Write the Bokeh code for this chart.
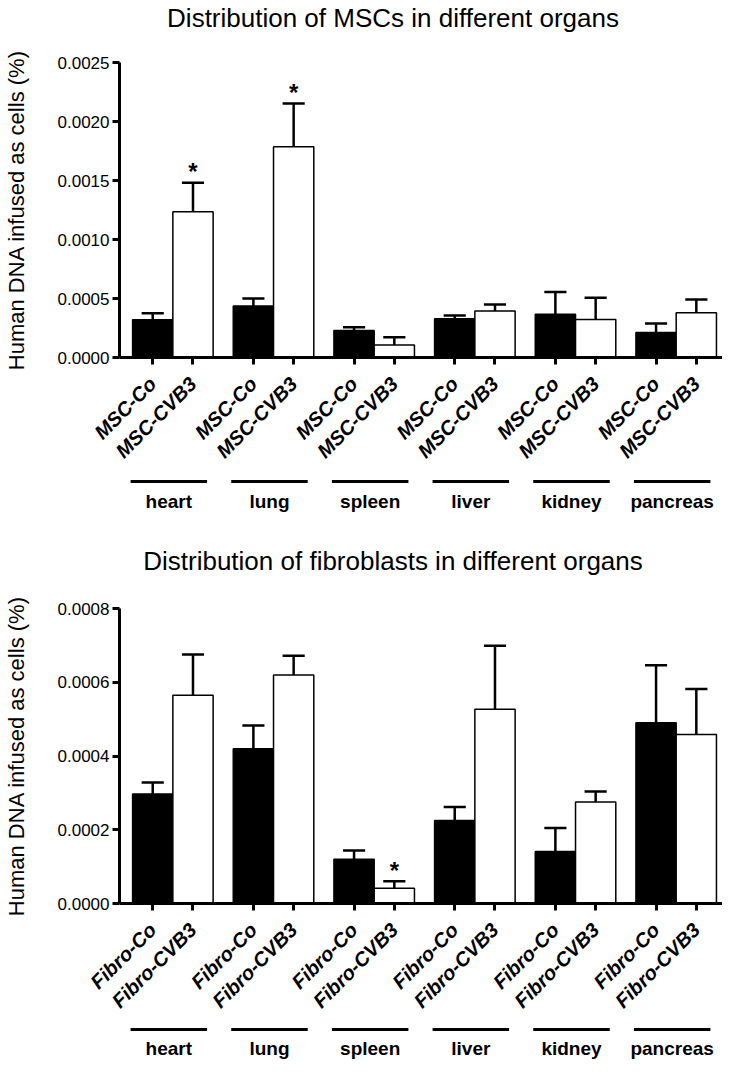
import math
from bokeh.plotting import figure
from bokeh.models import Range1d, FixedTicker, PrintfTickFormatter
from bokeh.layouts import column
from bokeh.core.properties import value
from bokeh.embed import file_html
from bokeh.resources import INLINE

# ---------------- data ----------------
organs = ["heart", "lung", "spleen", "liver", "kidney", "pancreas"]

msc_title = "Distribution of MSCs in different organs"
msc_labels = ["MSC-Co", "MSC-CVB3"]
msc_co = [0.000320, 0.000436, 0.000228, 0.000328, 0.000367, 0.000211]
msc_co_sem = [0.000055, 0.000064, 0.000028, 0.000028, 0.000189, 0.000078]
msc_cvb3 = [0.001236, 0.001786, 0.000106, 0.000394, 0.000322, 0.000380]
msc_cvb3_sem = [0.000244, 0.000367, 0.000066, 0.000056, 0.000184, 0.000112]
msc_cvb3_sig = [True, True, False, False, False, False]
msc_yticks = [0.0, 0.0005, 0.0010, 0.0015, 0.0020, 0.0025]

fib_title = "Distribution of fibroblasts in different organs"
fib_labels = ["Fibro-Co", "Fibro-CVB3"]
fib_co = [0.000297, 0.000420, 0.000120, 0.000225, 0.000141, 0.000490]
fib_co_sem = [0.000031, 0.000063, 0.000024, 0.000037, 0.000064, 0.000156]
fib_cvb3 = [0.000565, 0.000620, 0.0000412, 0.000527, 0.000275, 0.000458]
fib_cvb3_sem = [0.000110, 0.000052, 0.0000193, 0.000172, 0.000029, 0.000124]
fib_cvb3_sig = [False, False, True, False, False, False]
fib_yticks = [0.0, 0.0002, 0.0004, 0.0006, 0.0008]

y_label = "Human DNA infused as cells (%)"

# ---------------- style ----------------
FONT = "Liberation Sans"
W = 722
LEFT = 114
RIGHT = 0
BAR_W = 0.4
CAP = 0.11
x_range = Range1d(-0.53, 5.46)


def strip(height):
    s = figure(width=W, height=height, x_range=x_range,
               y_range=Range1d(0, height),
               output_backend="svg", toolbar_location=None,
               min_border_left=LEFT, min_border_right=RIGHT,
               min_border_top=0, min_border_bottom=0,
               x_axis_type=None, y_axis_type=None)
    s.outline_line_color = None
    s.grid.visible = False
    return s


def title_strip(title, height, text_y):
    s = strip(height)
    mid = (x_range.start + x_range.end) / 2
    s.text(x=[mid], y=[text_y], text=[title], text_font=value(FONT),
           text_font_size="26px", text_align="center",
           text_baseline="middle", text_color="black", x_offset=-28)
    return s


def organ_strip(height, line_y, label_y):
    s = strip(height)
    n = len(organs)
    s.segment(x0=[i - 0.42 for i in range(n)], y0=[line_y] * n,
              x1=[i + 0.34 for i in range(n)], y1=[line_y] * n,
              line_color="black", line_width=3)
    s.text(x=[i - 0.04 for i in range(n)], y=[label_y] * n, text=organs,
           text_font=value(FONT), text_font_style="bold",
           text_font_size="19px", text_align="center",
           text_baseline="middle", text_color="black")
    return s


def bar_chart(labels, co, co_sem, cv, cv_sem, cv_sig, yticks,
              height, border_top):
    p = figure(width=W, height=height, x_range=x_range,
               y_range=Range1d(0, yticks[-1]),
               output_backend="svg", toolbar_location=None,
               min_border_left=LEFT, min_border_right=RIGHT,
               min_border_top=border_top, min_border_bottom=110)
    p.grid.visible = False
    p.outline_line_color = None

    n = len(organs)
    x_co = [round(i - BAR_W / 2, 2) for i in range(n)]
    x_cv = [round(i + BAR_W / 2, 2) for i in range(n)]

    p.vbar(x=x_co, top=co, bottom=0, width=BAR_W,
           fill_color="black", line_color="black", line_width=1.5)
    p.vbar(x=x_cv, top=cv, bottom=0, width=BAR_W,
           fill_color="white", line_color="black", line_width=1.5)

    for xs, vals, sems in ((x_co, co, co_sem), (x_cv, cv, cv_sem)):
        tops = [v + s for v, s in zip(vals, sems)]
        p.segment(x0=xs, y0=vals, x1=xs, y1=tops,
                  line_color="black", line_width=2.5)
        p.segment(x0=[x - CAP for x in xs], y0=tops,
                  x1=[x + CAP for x in xs], y1=tops,
                  line_color="black", line_width=2.5)

    sx = [x for x, s in zip(x_cv, cv_sig) if s]
    sy = [v + s for v, s, g in zip(cv, cv_sem, cv_sig) if g]
    p.text(x=sx, y=sy, text=["*"] * len(sx), text_font=value(FONT),
           text_font_style="bold", text_font_size="24px",
           text_align="center", text_baseline="alphabetic",
           y_offset=-11, text_color="black")

    for ax in (p.xaxis, p.yaxis):
        ax.axis_line_width = 3
        ax.axis_line_color = "black"
        ax.major_tick_line_width = 3
        ax.major_tick_line_color = "black"
        ax.major_tick_out = 7
        ax.major_tick_in = 0
        ax.minor_tick_line_color = None
        ax.major_label_text_color = "black"

    p.yaxis.ticker = FixedTicker(ticks=yticks)
    p.yaxis.formatter = PrintfTickFormatter(format="%.4f")
    p.yaxis.major_label_text_font = FONT
    p.yaxis.major_label_text_font_size = "17px"
    p.yaxis.major_label_standoff = 3
    p.yaxis.axis_label = y_label
    p.yaxis.axis_label_text_font = FONT
    p.yaxis.axis_label_text_font_size = "22px"
    p.yaxis.axis_label_text_font_style = "normal"
    p.yaxis.axis_label_text_color = "black"
    p.yaxis.axis_label_standoff = 26

    ticks = []
    overrides = {}
    for a, b in zip(x_co, x_cv):
        ticks += [a, b]
        overrides[a] = labels[0]
        overrides[b] = labels[1]
    p.xaxis.ticker = FixedTicker(ticks=ticks)
    p.xaxis.major_label_overrides = overrides
    p.xaxis.major_label_orientation = math.pi / 4
    p.xaxis.major_label_text_font = FONT
    p.xaxis.major_label_text_font_size = "20px"
    p.xaxis.major_label_text_font_style = "bold italic"
    p.xaxis.major_label_standoff = 16
    return p


t1 = title_strip(msc_title, 42, 25)
p1 = bar_chart(msc_labels, msc_co, msc_co_sem, msc_cvb3, msc_cvb3_sem,
               msc_cvb3_sig, msc_yticks, height=430, border_top=20)
s1 = organ_strip(55, 46, 26)
t2 = title_strip(fib_title, 57, 24)
p2 = bar_chart(fib_labels, fib_co, fib_co_sem, fib_cvb3, fib_cvb3_sem,
               fib_cvb3_sig, fib_yticks, height=438, border_top=24)
s2 = organ_strip(37, 30, 11)

layout = column(t1, p1, s1, t2, p2, s2, spacing=0)
open("out.html", "w").write(file_html(layout, INLINE))
